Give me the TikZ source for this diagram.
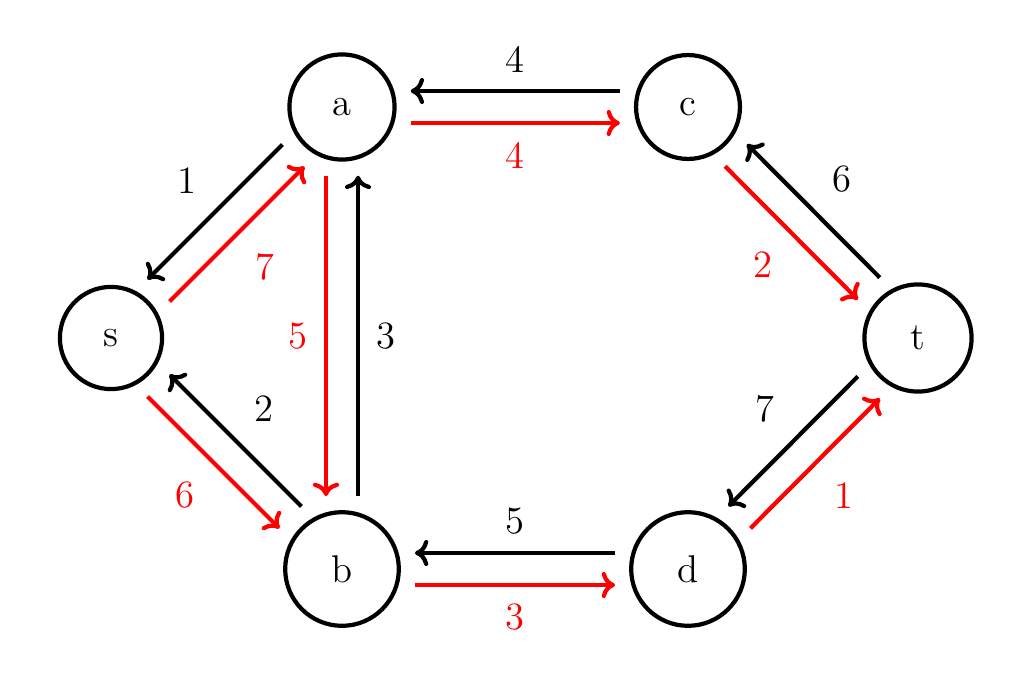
\documentclass[tikz,border=0pt]{standalone}
\definecolor{FlowRed}{RGB}{255, 0, 0}
\usepackage{tikz}
\usetikzlibrary{arrows.meta}

\begin{document}
\begin{tikzpicture}[x=1cm, y=1cm, font=\fontsize{11}{13}\selectfont,
  vertex/.style={circle, draw, very thick, inner sep=8pt},
  arcline/.style={-{To[length=3.8pt, width=7.4pt]}, very thick, shorten <=0.14cm, shorten >=0.14cm},
  weight/.style={inner sep=4.8pt}]
\useasboundingbox (0, 0) rectangle (10.22, 6.72);
\node[vertex] (s) at (1.11, 3.34) {s};
\node[vertex] (a) at (3.42, 5.65) {a};
\node[vertex] (c) at (6.88, 5.65) {c};
\node[vertex] (t) at (9.18, 3.34) {t};
\node[vertex] (b) at (3.42, 1.03) {b};
\node[vertex] (d) at (6.88, 1.03) {d};
% residual arcs (black) and flow arcs (red), drawn side by side
\foreach \u/\v/\sx/\sy/\c/\p/\w in {
  c/a/0/0.16/black/above/4, a/c/0/-0.16/FlowRed/below/4,
  a/s/-0.11/0.11/black/above left/1, s/a/0.11/-0.11/FlowRed/below right/7,
  a/b/-0.16/0/FlowRed/left/5, b/a/0.16/0/black/right/3,
  b/s/0.11/0.11/black/above right/2, s/b/-0.11/-0.11/FlowRed/below left/6,
  d/b/0/0.16/black/above/5, b/d/0/-0.16/FlowRed/below/3,
  t/c/0.11/0.11/black/above right/6, c/t/-0.11/-0.11/FlowRed/below left/2,
  t/d/-0.11/0.11/black/above left/7, d/t/0.11/-0.11/FlowRed/below right/1} {
  \path (\u) edge[arcline, draw=\c, transform canvas={shift={(\sx, \sy)}}]
    node[weight, midway, \p, text=\c] {\w} (\v);
}
\end{tikzpicture}
\end{document}
